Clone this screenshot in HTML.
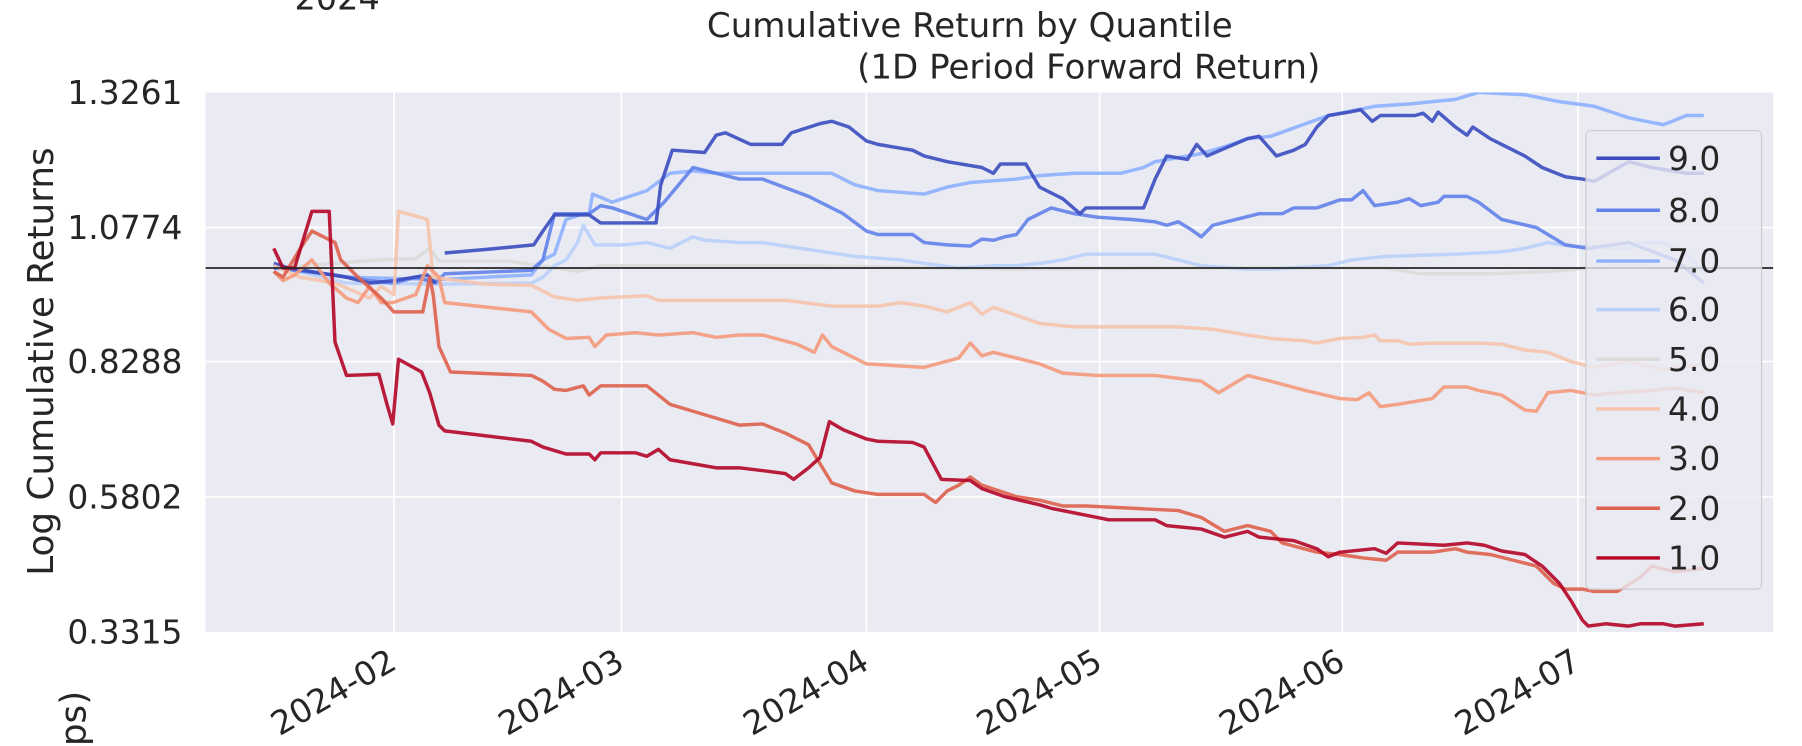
<!DOCTYPE html>
<html><head><meta charset="utf-8"><style>html,body{margin:0;padding:0;background:#fff}svg{display:block}</style></head><body>
<svg width="1802" height="746" viewBox="0 0 1560 645.8" preserveAspectRatio="none" xmlns="http://www.w3.org/2000/svg" font-family="'DejaVu Sans','Liberation Sans',sans-serif" fill="#262626">
<defs><clipPath id="c"><rect x="178" y="80" width="1357" height="467"/></clipPath></defs>
<rect x="178" y="80" width="1357" height="467" fill="#eaeaf2"/>
<g stroke="#fff" stroke-width="1.5">
<line x1="178" x2="1535" y1="197" y2="197"/><line x1="178" x2="1535" y1="313" y2="313"/><line x1="178" x2="1535" y1="430" y2="430"/>
<line x1="341" x2="341" y1="80" y2="547"/><line x1="538" x2="538" y1="80" y2="547"/><line x1="750" x2="750" y1="80" y2="547"/><line x1="952" x2="952" y1="80" y2="547"/><line x1="1162" x2="1162" y1="80" y2="547"/><line x1="1366" x2="1366" y1="80" y2="547"/>
</g>
<g clip-path="url(#c)" fill="none" stroke-width="3" stroke-linejoin="round" stroke-opacity="0.9">
<polyline stroke="#dddcdc" points="237,232 330,225 360,224 372,215 380,226 440,226 500,235 520,230 700,230 880,233 1000,232 1200,232 1230,237 1290,237 1340,235 1400,230 1475,232"/>
<polyline stroke="#b9d0f9" points="237,230 300,245 380,246 460,245 470,240 480,230 490,225 500,210 505,195 515,212 540,212 560,210 580,215 600,205 610,208 640,210 660,210 680,213 740,222 780,225 800,228 830,232 860,230 880,230 900,228 920,225 940,220 960,220 1000,220 1040,230 1080,233 1100,233 1150,230 1170,225 1200,222 1230,221 1260,220 1300,218 1320,215 1340,210 1360,213 1380,214 1410,215 1420,210 1440,210 1460,220 1475,235"/>
<polyline stroke="#8db0fe" points="237,230 300,240 380,242 460,238 470,225 480,220 485,205 490,190 505,185 510,185 513,168 530,175 560,165 580,150 600,148 620,150 640,150 680,150 720,150 740,160 760,165 800,168 820,162 840,158 880,155 900,152 930,150 970,150 990,145 1000,140 1040,133 1060,127 1080,120 1100,118 1150,100 1190,92 1220,90 1260,86 1280,80 1320,82 1350,88 1380,92 1410,102 1440,108 1460,100 1475,100"/>
<polyline stroke="#6282ea" points="237,232 290,238 320,243 341,245 360,240 377,245 385,237 460,234 470,225 480,185 510,185 520,178 530,180 560,190 575,175 600,145 640,155 660,155 700,170 730,185 750,200 760,203 790,203 800,210 820,212 840,213 850,207 860,208 870,205 880,203 890,190 910,180 930,185 950,188 980,190 1000,192 1010,195 1020,192 1030,198 1040,205 1050,195 1070,190 1090,185 1110,185 1120,180 1140,180 1160,173 1170,173 1180,165 1190,178 1210,175 1220,172 1230,178 1245,175 1250,170 1270,170 1280,175 1300,190 1330,197 1355,212 1375,215 1410,210 1450,225 1475,245"/>
<polyline stroke="#3b4cc0" points="237,228 250,232 300,240 320,245 341,243 370,238 377,245"/>
<polyline stroke="#3b4cc0" points="385,219 420,216 462,212 470,200 480,186 510,186 520,193 568,193 572,160 582,130 610,132 620,117 628,115 650,125 677,125 685,115 710,107 720,105 735,110 750,122 760,125 790,130 800,135 820,140 850,145 860,150 866,142 888,142 900,162 920,172 935,185 940,180 955,180 990,180 1000,155 1010,135 1028,138 1036,125 1045,135 1080,120 1090,118 1105,135 1120,130 1130,125 1140,110 1150,100 1168,97 1178,95 1188,105 1195,100 1225,100 1232,98 1240,105 1245,97 1260,110 1270,117 1275,110 1290,120 1300,125 1320,135 1335,145 1355,153 1370,155 1380,157 1410,140 1430,145 1460,150 1475,150"/>
<polyline stroke="#f5c4ac" points="237,230 260,240 290,245 320,258 330,248 341,255 345,183 360,187 370,190 375,240 420,246 460,247 480,257 500,260 520,258 560,256 570,260 620,260 680,260 720,265 760,265 780,262 800,265 820,270 840,262 850,272 860,266 900,280 930,283 1000,283 1020,283 1050,285 1080,290 1100,293 1130,295 1140,297 1160,293 1180,292 1190,290 1195,295 1210,295 1220,298 1240,297 1280,297 1300,298 1320,303 1340,305 1360,313 1380,318 1410,313 1440,320 1475,315"/>
<polyline stroke="#f49a7b" points="237,235 245,243 255,238 270,225 285,245 300,258 310,262 320,248 330,262 340,262 360,255 370,230 380,240 385,262 460,270 475,285 490,293 510,292 515,300 525,290 550,288 570,290 600,288 620,292 640,290 660,290 690,298 705,305 712,290 720,300 750,315 800,318 830,310 840,297 850,308 860,305 900,315 920,323 950,325 1000,325 1040,330 1055,340 1080,325 1100,330 1130,338 1160,345 1175,346 1185,340 1195,352 1210,350 1240,345 1250,335 1270,335 1280,338 1300,342 1320,355 1330,356 1340,340 1360,338 1380,342 1400,340 1430,338 1450,336 1475,340"/>
<polyline stroke="#de604d" points="237,235 245,240 260,215 270,200 290,210 295,225 310,240 330,258 341,270 366,270 372,240 375,255 380,300 390,322 460,325 470,330 480,337 490,338 505,334 510,342 520,334 560,334 570,342 580,350 600,356 630,365 640,368 660,367 680,375 700,385 720,418 740,425 760,428 800,428 810,435 820,425 830,420 840,413 850,420 880,430 900,433 920,438 940,438 980,440 1020,442 1040,448 1060,460 1080,455 1100,460 1110,470 1140,478 1160,480 1180,483 1200,485 1210,478 1240,478 1260,475 1270,478 1290,480 1310,485 1330,490 1345,505 1355,510 1370,510 1380,512 1400,512 1420,500 1430,490 1450,495 1475,492"/>
<polyline stroke="#b40426" points="237,215 245,232 255,232 270,183 285,183 290,296 300,325 328,324 335,350 340,367 345,311 365,322 372,340 380,368 385,373 460,382 470,387 490,393 510,393 515,398 520,392 550,392 560,395 570,389 580,398 620,405 640,405 665,408 680,410 687,415 700,405 710,396 718,365 730,372 750,380 760,382 790,383 800,387 815,415 840,416 850,423 870,430 900,437 910,440 960,450 1000,450 1010,455 1040,458 1060,465 1080,460 1090,465 1120,468 1140,475 1150,482 1160,478 1190,475 1200,479 1210,470 1250,472 1270,470 1285,472 1300,477 1320,480 1335,490 1350,505 1360,520 1370,537 1375,542 1390,540 1410,542 1420,540 1440,540 1450,542 1475,540"/>
</g>
<line x1="178" x2="1535" y1="232" y2="232" stroke="#262626" stroke-width="1.5"/>
<g font-size="28.5" text-anchor="end">
<text x="158" y="90">1.3261</text><text x="158" y="207">1.0774</text><text x="158" y="323">0.8288</text><text x="158" y="440">0.5802</text><text x="158" y="557">0.3315</text>
</g>
<g font-size="28.5" text-anchor="end">
<text transform="translate(345,578) rotate(-30)">2024-02</text>
<text transform="translate(542,578) rotate(-30)">2024-03</text>
<text transform="translate(754,578) rotate(-30)">2024-04</text>
<text transform="translate(956,578) rotate(-30)">2024-05</text>
<text transform="translate(1166,578) rotate(-30)">2024-06</text>
<text transform="translate(1370,578) rotate(-30)">2024-07</text>
</g>
<text font-size="31" text-anchor="middle" transform="translate(46,313) rotate(-90)">Log Cumulative Returns</text>
<text font-size="31" text-anchor="middle" transform="translate(74,622) rotate(-90)">ps)</text>
<text font-size="29" x="255" y="8">2024</text>
<text font-size="29.5" x="612" y="32">Cumulative Return by Quantile</text>
<text font-size="29.5" x="742" y="68">(1D Period Forward Return)</text>
<rect x="1373" y="113" width="152" height="397" rx="4" fill="#eaeaf2" fill-opacity="0.8" stroke="#cccccc" stroke-width="1"/>
<g stroke-width="3">
<line x1="1382" x2="1437" y1="137" y2="137" stroke="#3b4cc0"/>
<line x1="1382" x2="1437" y1="182" y2="182" stroke="#6282ea"/>
<line x1="1382" x2="1437" y1="226" y2="226" stroke="#8db0fe"/>
<line x1="1382" x2="1437" y1="268" y2="268" stroke="#b9d0f9"/>
<line x1="1382" x2="1437" y1="311" y2="311" stroke="#dddcdc"/>
<line x1="1382" x2="1437" y1="354" y2="354" stroke="#f5c4ac"/>
<line x1="1382" x2="1437" y1="397" y2="397" stroke="#f49a7b"/>
<line x1="1382" x2="1437" y1="440" y2="440" stroke="#de604d"/>
<line x1="1382" x2="1437" y1="483" y2="483" stroke="#b40426"/>
</g>
<g font-size="28.5">
<text x="1444" y="147">9.0</text><text x="1444" y="192">8.0</text><text x="1444" y="236">7.0</text><text x="1444" y="278">6.0</text><text x="1444" y="321">5.0</text><text x="1444" y="364">4.0</text><text x="1444" y="407">3.0</text><text x="1444" y="450">2.0</text><text x="1444" y="493">1.0</text>
</g>
</svg>
</body></html>
